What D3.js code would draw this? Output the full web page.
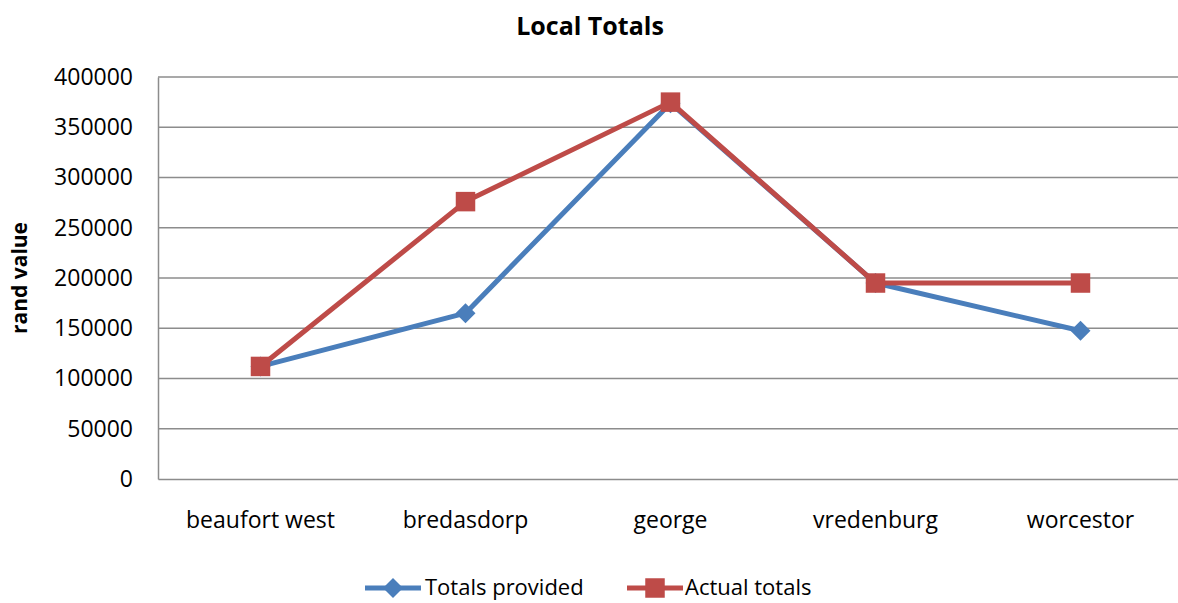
<!DOCTYPE html>
<html>
<head>
<meta charset="utf-8">
<script src="https://cdn.jsdelivr.net/npm/d3@7"></script>
<style>
  html, body { margin: 0; padding: 0; background: #fff; }
  svg { display: block; font-family: "Open Sans", "Noto Sans", sans-serif; }
</style>
</head>
<body>
<svg id="chart" width="1178" height="603"></svg>
<script>
// Town categories and the two series of rand values
const towns = ["beaufort west", "bredasdorp", "george", "vredenburg", "worcestor"];
const totalsProvided = [112000, 165000, 374000, 195000, 147500];
const actualTotals = [112000, 276000, 375000, 195000, 195000];
const yTicks = [0, 50000, 100000, 150000, 200000, 250000, 300000, 350000, 400000];

const seriesNames = ["Totals provided", "Actual totals"];
const seriesColors = ["#4A7EBB", "#BE4B48"];

const svg = d3.select("#chart");
const margin = { left: 158, right: -5, top: 77, bottom: 124 };
const W = 1178, H = 603;

const x = d3.scaleBand().domain(towns).range([margin.left, W - margin.right]);
const y = d3.scaleLinear().domain([0, 400000]).range([H - margin.bottom, margin.top]);

// horizontal gridlines
svg.append("g")
  .selectAll("line")
  .data(yTicks.filter(d => d > 0))
  .join("line")
  .attr("x1", margin.left).attr("x2", W - margin.right)
  .attr("y1", d => y(d)).attr("y2", d => y(d))
  .attr("stroke", "#8c8c8c").attr("stroke-width", 1.5);

// y axis
const yAxis = svg.append("g")
  .attr("transform", `translate(${margin.left},0)`)
  .call(d3.axisLeft(y).tickValues(yTicks).tickSize(0).tickPadding(25).tickFormat(d3.format("d")));
yAxis.select(".domain").attr("stroke", "#8c8c8c").attr("stroke-width", 1.5);
yAxis.selectAll("text").attr("font-size", 23).attr("fill", "#000")
  .attr("font-family", "Open Sans, sans-serif");

// x axis
const xAxis = svg.append("g")
  .attr("transform", `translate(0,${y(0)})`)
  .call(d3.axisBottom(x).tickSize(0).tickPadding(33));
xAxis.select(".domain").attr("stroke", "#8c8c8c").attr("stroke-width", 1.5);
xAxis.selectAll("text").attr("font-size", 23).attr("fill", "#000")
  .attr("font-family", "Open Sans, sans-serif");

const cx = d => x(d) + x.bandwidth() / 2;
const line = d3.line().x(d => cx(d.town)).y(d => y(d.value));

const series = [totalsProvided, actualTotals].map((vals, i) => ({
  name: seriesNames[i],
  color: seriesColors[i],
  points: towns.map((t, j) => ({ town: t, value: vals[j] }))
}));

series.forEach((s, i) => {
  svg.append("path")
    .datum(s.points)
    .attr("fill", "none")
    .attr("stroke", s.color)
    .attr("stroke-width", 5)
    .attr("stroke-linejoin", "round")
    .attr("d", line);
  const size = i === 0 ? 200 : 380;
  svg.append("g").selectAll("path")
    .data(s.points)
    .join("path")
    .attr("d", d3.symbol(d3.symbolSquare, size))
    .attr("transform", d => `translate(${cx(d.town)},${y(d.value)})` + (i === 0 ? " rotate(45)" : ""))
    .attr("fill", s.color);
});

// title
svg.append("text")
  .attr("x", 590).attr("y", 35)
  .attr("text-anchor", "middle")
  .attr("font-size", 25).attr("font-weight", "bold")
  .text("Local Totals");

// y axis title
svg.append("text")
  .attr("transform", `translate(27,${(y(0) + y(400000)) / 2}) rotate(-90)`)
  .attr("text-anchor", "middle")
  .attr("font-size", 21).attr("font-weight", "bold")
  .text("rand value");

// legend
const legendItems = [
  { x: 365, textX: 425 },
  { x: 627, textX: 685 }
];
series.forEach((s, i) => {
  const g = svg.append("g");
  const lx = legendItems[i].x, ly = 588;
  g.append("line").attr("x1", lx).attr("x2", lx + 56).attr("y1", ly).attr("y2", ly)
    .attr("stroke", s.color).attr("stroke-width", 5);
  g.append("path")
    .attr("d", d3.symbol(d3.symbolSquare, i === 0 ? 200 : 380))
    .attr("transform", `translate(${lx + 28},${ly})` + (i === 0 ? " rotate(45)" : ""))
    .attr("fill", s.color);
  g.append("text").attr("x", legendItems[i].textX).attr("y", ly + 7)
    .attr("font-size", 22).text(s.name);
});
</script>
</body>
</html>
